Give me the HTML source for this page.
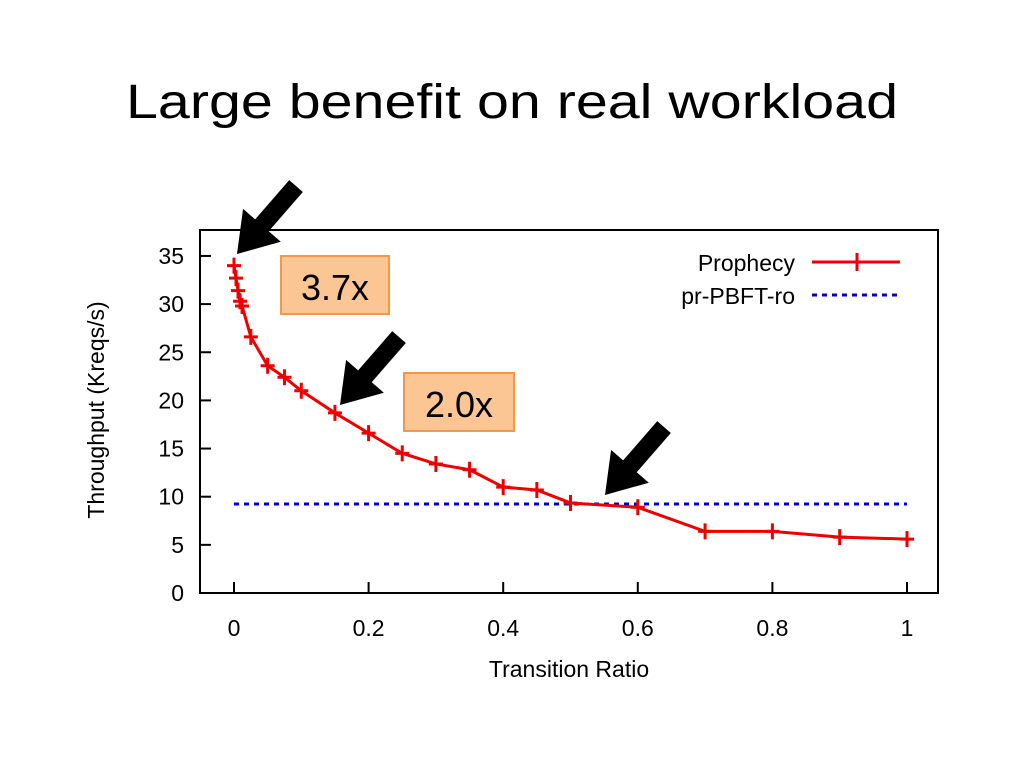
<!DOCTYPE html>
<html><head><meta charset="utf-8"><style>
body{margin:0;background:#fff;}
svg{display:block;font-family:"Liberation Sans",Arial,sans-serif;}
</style></head><body>
<svg id="chart" width="1024" height="768" viewBox="0 0 1024 768">
<rect width="1024" height="768" fill="#fff"/>
<text x="512" y="118" text-anchor="middle" font-size="48" textLength="772" lengthAdjust="spacingAndGlyphs" fill="#000" font-family="Liberation Sans, sans-serif">Large benefit on real workload</text>
<rect x="200" y="230" width="738" height="363" fill="none" stroke="#000" stroke-width="2"/>
<g id="axes"></g>
<g id="series"></g>
<text x="569" y="677" text-anchor="middle" font-size="23">Transition Ratio</text>
<text transform="translate(104,410) rotate(-90)" text-anchor="middle" font-size="23">Throughput (Kreqs/s)</text>
<g>
<text x="795" y="271" text-anchor="end" font-size="23">Prophecy</text>
<line x1="812" y1="262" x2="900" y2="262" stroke="#e00" stroke-width="3"/>
<line x1="857" y1="253" x2="857" y2="271" stroke="#e00" stroke-width="3"/>
<text x="795" y="304" text-anchor="end" font-size="23">pr-PBFT-ro</text>
<line x1="812" y1="295" x2="897" y2="295" stroke="#00c" stroke-width="3" stroke-dasharray="5,5"/>
</g>
<g>
<rect x="281" y="256" width="108" height="58" fill="#fbc594" stroke="#f79646" stroke-width="2"/>
<text x="335" y="300" text-anchor="middle" font-size="36">3.7x</text>
</g>
<g>
<rect x="404" y="373" width="110" height="58" fill="#fbc594" stroke="#f79646" stroke-width="2"/>
<text x="459" y="417" text-anchor="middle" font-size="36">2.0x</text>
</g>
<g id="arrows"></g>
</svg>
<script>
const xTicks=[0,0.2,0.4,0.6,0.8,1];
const xTickLabels=["0","0.2","0.4","0.6","0.8","1"];
const yTicks=[0,5,10,15,20,25,30,35];
const yTickLabels=["0","5","10","15","20","25","30","35"];
const prophecyX=[0,0.003,0.006,0.009,0.012,0.025,0.05,0.075,0.1,0.15,0.2,0.25,0.3,0.35,0.4,0.45,0.5,0.6,0.7,0.8,0.9,1];
const prophecyY=[34.0,32.7,31.4,30.3,29.8,26.6,23.6,22.4,21.0,18.7,16.6,14.5,13.4,12.8,11.0,10.7,9.35,8.9,6.4,6.4,5.8,5.6];
const baselineX=[0,1];
const baselineY=[9.24,9.24];
const NS="http://www.w3.org/2000/svg";
const xs=v=>234+v*673;
const ys=v=>593-v*9.63;
function mk(tag,attrs,parent){const e=document.createElementNS(NS,tag);for(const k in attrs)e.setAttribute(k,attrs[k]);parent.appendChild(e);return e;}
const axes=document.getElementById('axes');
xTicks.forEach((t,i)=>{
 const l=mk('line',{x1:xs(t),x2:xs(t),y1:593,y2:582,stroke:'#000','stroke-width':2},axes);
 
 
 const tx=mk('text',{x:xs(t),y:636,'text-anchor':'middle','font-size':23},axes);
 
 
 tx.textContent=xTickLabels[i];
});
yTicks.forEach((t,i)=>{
 const l=mk('line',{x1:200,x2:211,y1:ys(t),y2:ys(t),stroke:'#000','stroke-width':2},axes);
 
 
 const tx=mk('text',{x:184,y:ys(t)+8,'text-anchor':'end','font-size':23},axes);
 
 
 tx.textContent=yTickLabels[i];
});
const ser=document.getElementById('series');
const bl=mk('polyline',{points:baselineX.map((x,i)=>xs(x)+','+ys(baselineY[i])).join(' '),fill:'none',stroke:'#00c','stroke-width':3,'stroke-dasharray':'5,5'},ser);


const pl=mk('polyline',{points:prophecyX.map((x,i)=>xs(x)+','+ys(prophecyY[i])).join(' '),fill:'none',stroke:'#e00','stroke-width':3},ser);


prophecyX.forEach((x,i)=>{
 const cx=xs(x),cy=ys(prophecyY[i]);
 const p=mk('path',{d:`M${cx-7},${cy}H${cx+7}M${cx},${cy-8}V${cy+8}`,stroke:'#e00','stroke-width':3},ser);
 
 
});
const arrows=document.getElementById('arrows');
[[237,254],[340,405],[605,495]].forEach(([tx,ty])=>{
 const a=mk('polygon',{points:'-90,-9 -38,-9 -38,-25 0,0 -38,25 -38,9 -90,9',fill:'#000',transform:`translate(${tx},${ty}) rotate(131)`},arrows);
 
 
});
</script>
</body></html>
